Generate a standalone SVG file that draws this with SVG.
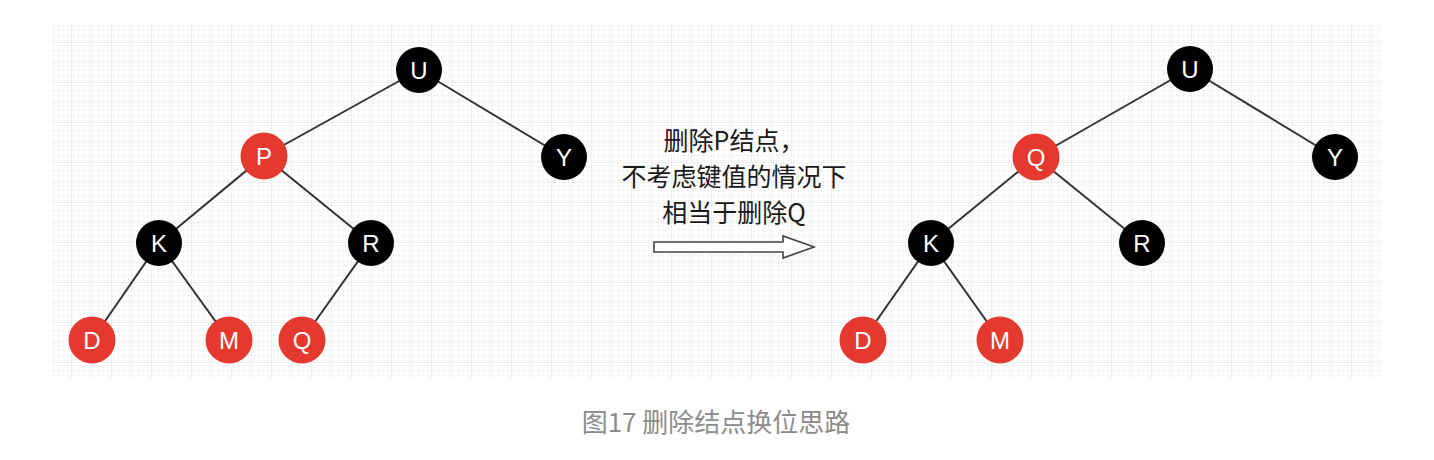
<svg xmlns="http://www.w3.org/2000/svg" width="1434" height="460" viewBox="0 0 1434 460">
  <defs>
    <pattern id="minor" width="5" height="5" patternUnits="userSpaceOnUse" x="52" y="23">
      <path d="M5 0V5M0 5H5" fill="none" stroke="#ebebeb" stroke-width="0.8"/>
    </pattern>
    <pattern id="major" width="20" height="20" patternUnits="userSpaceOnUse" x="52" y="23">
      <rect width="20" height="20" fill="url(#minor)"/>
      <path d="M20 0V20M0 20H20" fill="none" stroke="#e0e0e0" stroke-width="1"/>
    </pattern>
  </defs>
  <style>
    .edge { stroke: #333333; stroke-width: 2; fill: none; }
    .red { fill: #e5382e; }
    .black { fill: #000000; }
    .lbl { font-family: "Liberation Sans", Arial, sans-serif; font-size: 24px; fill: #ffffff; text-anchor: middle; }
    .note { font-family: "Noto Sans CJK SC", "Liberation Sans", sans-serif; font-size: 25px; fill: #1a1a1a; text-anchor: middle; }
    .cap { font-family: "Noto Sans CJK SC", "Liberation Sans", sans-serif; font-size: 26px; fill: #8c8c8c; text-anchor: middle; }
  </style>
  <rect width="1434" height="460" fill="#ffffff"/>
  <rect x="52" y="23" width="1330" height="356" fill="url(#major)"/>

  <g id="connectors">
    <line class="edge" x1="419" y1="70" x2="264" y2="156"/>
    <line class="edge" x1="419" y1="70" x2="564" y2="157"/>
    <line class="edge" x1="264" y1="156" x2="159" y2="243"/>
    <line class="edge" x1="264" y1="156" x2="371" y2="243"/>
    <line class="edge" x1="159" y1="243" x2="92" y2="340"/>
    <line class="edge" x1="159" y1="243" x2="229" y2="340"/>
    <line class="edge" x1="371" y1="243" x2="302" y2="340"/>

    <line class="edge" x1="1190" y1="69" x2="1036" y2="157"/>
    <line class="edge" x1="1190" y1="69" x2="1335" y2="157"/>
    <line class="edge" x1="1036" y1="157" x2="931" y2="243"/>
    <line class="edge" x1="1036" y1="157" x2="1142" y2="243"/>
    <line class="edge" x1="931" y1="243" x2="863" y2="340"/>
    <line class="edge" x1="931" y1="243" x2="1000" y2="340"/>
  </g>

  <g id="L-U"><circle class="black" cx="419" cy="70" r="23"/><text class="lbl" x="419" y="78.6">U</text></g>
  <g id="L-P"><circle class="red" cx="264" cy="156" r="23.5"/><text class="lbl" x="264" y="164.6">P</text></g>
  <g id="L-Y"><circle class="black" cx="564" cy="157" r="23"/><text class="lbl" x="564" y="165.6">Y</text></g>
  <g id="L-K"><circle class="black" cx="159" cy="243" r="23"/><text class="lbl" x="159" y="251.6">K</text></g>
  <g id="L-R"><circle class="black" cx="371" cy="243" r="23"/><text class="lbl" x="371" y="251.6">R</text></g>
  <g id="L-D"><circle class="red" cx="92" cy="340" r="23.5"/><text class="lbl" x="92" y="348.6">D</text></g>
  <g id="L-M"><circle class="red" cx="229" cy="340" r="23.5"/><text class="lbl" x="229" y="348.6">M</text></g>
  <g id="L-Q"><circle class="red" cx="302" cy="340" r="23.5"/><text class="lbl" x="302" y="348.6">Q</text></g>

  <g id="R-U"><circle class="black" cx="1190" cy="69" r="23"/><text class="lbl" x="1190" y="77.6">U</text></g>
  <g id="R-Q"><circle class="red" cx="1036" cy="157" r="23.5"/><text class="lbl" x="1036" y="165.6">Q</text></g>
  <g id="R-Y"><circle class="black" cx="1335" cy="157" r="23"/><text class="lbl" x="1335" y="165.6">Y</text></g>
  <g id="R-K"><circle class="black" cx="931" cy="243" r="23"/><text class="lbl" x="931" y="251.6">K</text></g>
  <g id="R-R"><circle class="black" cx="1142" cy="243" r="23"/><text class="lbl" x="1142" y="251.6">R</text></g>
  <g id="R-D"><circle class="red" cx="863" cy="340" r="23.5"/><text class="lbl" x="863" y="348.6">D</text></g>
  <g id="R-M"><circle class="red" cx="1000" cy="340" r="23.5"/><text class="lbl" x="1000" y="348.6">M</text></g>

  <g id="note">
    <text class="note" x="734" y="150">删除P结点，</text>
    <text class="note" x="734" y="186">不考虑键值的情况下</text>
    <text class="note" x="734" y="222">相当于删除Q</text>
  </g>
  <g id="arrow">
    <path d="M654 242H783V236L814 247L783 258V252H654Z" fill="#ffffff" stroke="#444444" stroke-width="1.6" stroke-linejoin="miter"/>
  </g>
  <g id="caption">
    <text class="cap" x="716" y="432">图17 删除结点换位思路</text>
  </g>
</svg>
